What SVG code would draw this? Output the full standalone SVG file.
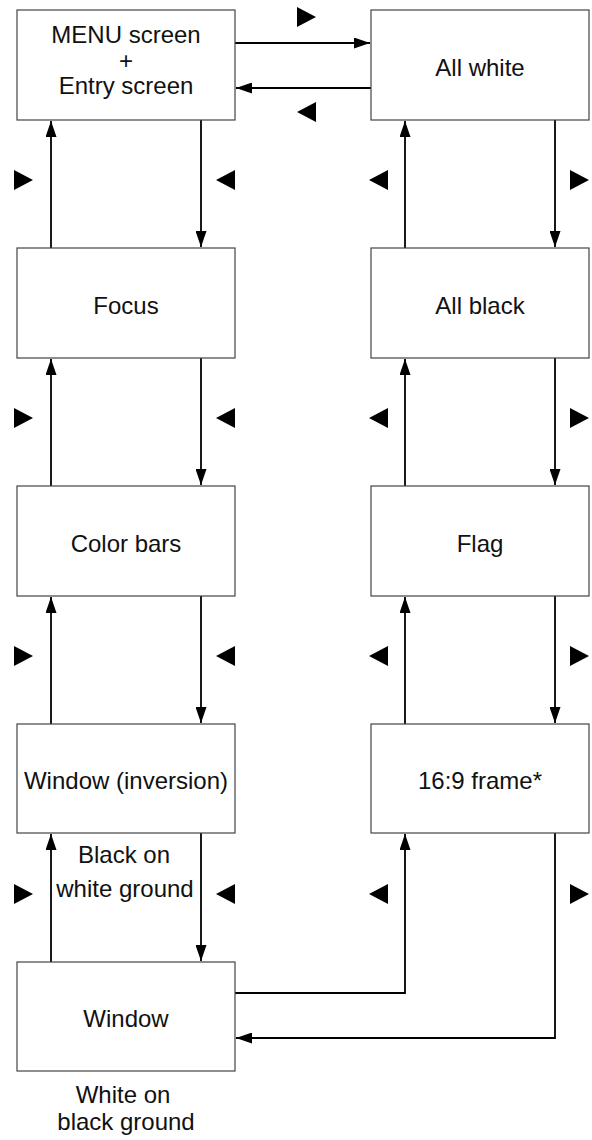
<svg xmlns="http://www.w3.org/2000/svg" width="592" height="1140" viewBox="0 0 592 1140">
<style>
.box{fill:#fff;stroke:#444;stroke-width:1.2}
.lbl{font-family:"Liberation Sans",Arial,sans-serif;font-size:24px;fill:#111;text-anchor:middle}
.con{fill:none;stroke:#000;stroke-width:1.8}
.tri{fill:#000}
</style>
<defs>
<marker id="ah" markerUnits="userSpaceOnUse" markerWidth="17" markerHeight="11" refX="16" refY="5.5" orient="auto">
<path d="M0,0 L16,5.5 L0,11 Z" fill="#000"/>
</marker>
</defs>
<rect width="592" height="1140" fill="#fff"/>
<g id="connectors">
<path class="con" d="M235,43 H370" marker-end="url(#ah)"/>
<path class="con" d="M371,88 H236" marker-end="url(#ah)"/>
<path class="con" d="M51,248 V121" marker-end="url(#ah)"/>
<path class="con" d="M201,120 V247" marker-end="url(#ah)"/>
<path class="con" d="M51,486 V359" marker-end="url(#ah)"/>
<path class="con" d="M201,358 V485" marker-end="url(#ah)"/>
<path class="con" d="M51,724 V597" marker-end="url(#ah)"/>
<path class="con" d="M201,596 V723" marker-end="url(#ah)"/>
<path class="con" d="M51,962 V834" marker-end="url(#ah)"/>
<path class="con" d="M201,833 V961" marker-end="url(#ah)"/>
<path class="con" d="M405,248 V121" marker-end="url(#ah)"/>
<path class="con" d="M555,120 V247" marker-end="url(#ah)"/>
<path class="con" d="M405,486 V359" marker-end="url(#ah)"/>
<path class="con" d="M555,358 V485" marker-end="url(#ah)"/>
<path class="con" d="M405,724 V597" marker-end="url(#ah)"/>
<path class="con" d="M555,596 V723" marker-end="url(#ah)"/>
<path class="con" d="M235,993 H405 V834" marker-end="url(#ah)"/>
<path class="con" d="M555,833 V1038 H236" marker-end="url(#ah)"/>
</g>
<g id="direction-marks">
<path class="tri" d="M297,7 L316,17 L297,27 Z"/>
<path class="tri" d="M316,102 L297,112 L316,122 Z"/>
<path class="tri" d="M14,170 L33,180 L14,190 Z"/>
<path class="tri" d="M235,170 L216,180 L235,190 Z"/>
<path class="tri" d="M388,170 L369,180 L388,190 Z"/>
<path class="tri" d="M570,170 L589,180 L570,190 Z"/>
<path class="tri" d="M14,408 L33,418 L14,428 Z"/>
<path class="tri" d="M235,408 L216,418 L235,428 Z"/>
<path class="tri" d="M388,408 L369,418 L388,428 Z"/>
<path class="tri" d="M570,408 L589,418 L570,428 Z"/>
<path class="tri" d="M14,646 L33,656 L14,666 Z"/>
<path class="tri" d="M235,646 L216,656 L235,666 Z"/>
<path class="tri" d="M388,646 L369,656 L388,666 Z"/>
<path class="tri" d="M570,646 L589,656 L570,666 Z"/>
<path class="tri" d="M14,884 L33,894 L14,904 Z"/>
<path class="tri" d="M235,884 L216,894 L235,904 Z"/>
<path class="tri" d="M388,884 L369,894 L388,904 Z"/>
<path class="tri" d="M570,884 L589,894 L570,904 Z"/>
</g>
<g id="menu">
<rect class="box" x="17" y="10" width="218" height="110"/>
<text class="lbl" x="126" y="43">MENU screen</text>
<text class="lbl" x="126" y="69">+</text>
<text class="lbl" x="126" y="94">Entry screen</text>
</g>
<g id="all-white">
<rect class="box" x="371" y="10" width="218" height="110"/>
<text class="lbl" x="480" y="76">All white</text>
</g>
<g id="focus">
<rect class="box" x="17" y="248" width="218" height="110"/>
<text class="lbl" x="126" y="314">Focus</text>
</g>
<g id="all-black">
<rect class="box" x="371" y="248" width="218" height="110"/>
<text class="lbl" x="480" y="314">All black</text>
</g>
<g id="color-bars">
<rect class="box" x="17" y="486" width="218" height="110"/>
<text class="lbl" x="126" y="552">Color bars</text>
</g>
<g id="flag">
<rect class="box" x="371" y="486" width="218" height="110"/>
<text class="lbl" x="480" y="552">Flag</text>
</g>
<g id="window-inversion">
<rect class="box" x="17" y="724" width="218" height="109"/>
<text class="lbl" x="126" y="789">Window (inversion)</text>
<text class="lbl" x="124" y="863">Black on</text>
<text class="lbl" x="125" y="897">white ground</text>
</g>
<g id="frame-169">
<rect class="box" x="371" y="724" width="218" height="109"/>
<text class="lbl" x="480" y="789">16:9 frame*</text>
</g>
<g id="window">
<rect class="box" x="17" y="962" width="218" height="109"/>
<text class="lbl" x="126" y="1027">Window</text>
<text class="lbl" x="123" y="1103">White on</text>
<text class="lbl" x="126" y="1130">black ground</text>
</g>
</svg>
